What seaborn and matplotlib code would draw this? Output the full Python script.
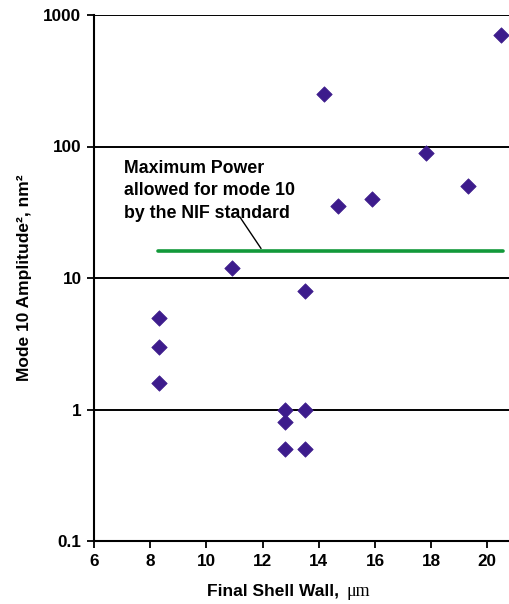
import matplotlib
matplotlib.use("Agg")
import matplotlib.pyplot as plt
import seaborn as sns
import pandas as pd
from matplotlib.ticker import FixedLocator, FixedFormatter

# ---- data ----
shell_wall = [8.3, 8.3, 8.3, 10.9, 12.8, 12.8, 12.8, 13.5, 13.5, 13.5,
              14.2, 14.7, 15.9, 17.8, 19.3, 20.5]
amplitude2 = [5.0, 3.0, 1.6, 12.0, 1.0, 0.8, 0.5, 1.0, 0.5, 8.0,
              250.0, 35.0, 40.0, 90.0, 50.0, 700.0]
std_x = [8.28, 20.55]
std_y = [16.1, 16.1]
x_ticks = [6, 8, 10, 12, 14, 16, 18, 20]
y_ticks = [0.1, 1, 10, 100, 1000]
y_tick_labels = ["0.1", "1", "10", "100", "1000"]
annotation = "Maximum Power\nallowed for mode 10\nby the NIF standard"

sns.set_theme(style="white")
plt.rcParams["font.family"] = ["Liberation Sans", "DejaVu Sans"]
plt.rcParams["font.weight"] = "bold"
plt.rcParams["text.color"] = "black"
plt.rcParams["axes.labelcolor"] = "black"

W, H = 509, 604
fig = plt.figure(figsize=(W / 100, H / 100), dpi=100)
ax = fig.add_axes([94 / W, 1 - 541 / H, (509 - 94) / W, (541 - 15) / H])

df = pd.DataFrame({"x": shell_wall, "y": amplitude2})
sns.scatterplot(data=df, x="x", y="y", marker="D", s=62, color="#3d1c8c",
                edgecolor="#3d1c8c", linewidth=0.5, ax=ax, zorder=5, clip_on=False)
sns.lineplot(x=std_x, y=std_y, color="#12993a", lw=2.6, ax=ax, zorder=4)

ax.set_yscale("log")
ax.set_xlim(6, 20.77)
ax.set_ylim(0.1, 1000)
ax.xaxis.set_major_locator(FixedLocator(x_ticks))
ax.yaxis.set_major_locator(FixedLocator(y_ticks))
ax.yaxis.set_major_formatter(FixedFormatter(y_tick_labels))
ax.yaxis.set_minor_locator(FixedLocator([]))

for v in y_ticks[1:]:
    ax.axhline(v, color="black", lw=1.4, zorder=2)

for s in ["top", "right"]:
    ax.spines[s].set_visible(False)
for s in ["left", "bottom"]:
    ax.spines[s].set_visible(True)
    ax.spines[s].set_color("black")
    ax.spines[s].set_linewidth(1.5)

ax.tick_params(axis="both", which="major", direction="out", length=5, width=1.3,
               color="black", labelsize=12.3, labelcolor="black", pad=4,
               bottom=True, left=True)
for lab in ax.get_xticklabels() + ax.get_yticklabels():
    lab.set_fontweight("bold")

ax.set_xlabel("")
ax.set_ylabel("")

ax.text(7.07, 79, annotation, fontsize=12.8, fontweight="bold", ha="left",
        va="top", linespacing=1.42, color="black")
ax.annotate("", xy=(12.0, 16.1), xytext=(11.15, 30),
            arrowprops=dict(arrowstyle="-", color="black", lw=1.0))

fig.text(25 / W, 1 - 278 / H, "Mode 10 Amplitude\u00b2, nm\u00b2", color="black",
         rotation=90, ha="center", va="center", fontsize=12.5, fontweight="bold")
fig.text(339 / W, 1 - 591 / H, "Final Shell Wall,", ha="right", va="center",
         fontsize=12.5, fontweight="bold", color="black")
fig.text(347 / W, 1 - 591 / H, "\u03bcm", ha="left", va="center", color="black",
         fontsize=13, family=["Liberation Serif", "DejaVu Serif"], fontweight="normal")

fig.savefig("out.png", dpi=100)
